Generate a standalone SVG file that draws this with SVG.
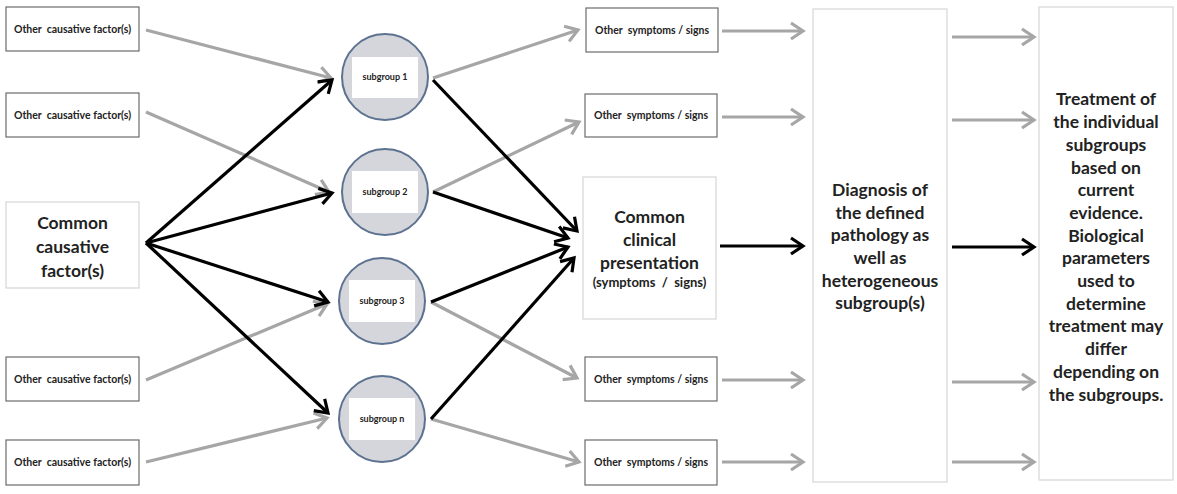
<svg xmlns="http://www.w3.org/2000/svg" width="1177" height="494" viewBox="0 0 1177 494">
<defs>
<style>
.sbox{fill:#fff;stroke:#6b6b6b;stroke-width:1.2}
.lbox{fill:#fff;stroke:#d6d6d6;stroke-width:1.2}
.circ{fill:#d4d6dc;stroke:#5d7290;stroke-width:2}
.inner{fill:#fff}
.t{font-family:Lato,"Open Sans",sans-serif;font-weight:bold;fill:#222;text-anchor:middle;white-space:pre}
.small{font-size:10.5px}
.sg{font-size:9px}
.big{font-size:17.5px}
.g{stroke:#a6a6a6;stroke-width:3.2;fill:none;marker-end:url(#mg)}
.k{stroke:#000;stroke-width:3.2;fill:none;marker-end:url(#mk)}
</style>
<marker id="mg" viewBox="-16 -10 20 20" refX="0" refY="0" markerWidth="20" markerHeight="20" markerUnits="userSpaceOnUse" orient="auto" overflow="visible">
<path d="M-12,-8 L0,0 L-12,8" fill="none" stroke="#a6a6a6" stroke-width="3.2"/>
</marker>
<marker id="mk" viewBox="-16 -10 20 20" refX="0" refY="0" markerWidth="20" markerHeight="20" markerUnits="userSpaceOnUse" orient="auto" overflow="visible">
<path d="M-12,-8 L0,0 L-12,8" fill="none" stroke="#000" stroke-width="3.2"/>
</marker>
</defs>
<rect width="1177" height="494" fill="#fff"/>

<g id="connectors">
<line class="g" x1="146" y1="30" x2="331" y2="78"/>
<line class="g" x1="146" y1="112" x2="329" y2="192"/>
<line class="g" x1="146" y1="380" x2="327" y2="304"/>
<line class="g" x1="146" y1="462" x2="327" y2="418"/>
<line class="k" x1="146" y1="243" x2="332" y2="80"/>
<line class="k" x1="146" y1="243" x2="332" y2="193"/>
<line class="k" x1="146" y1="243" x2="328" y2="302"/>
<line class="k" x1="146" y1="243" x2="328" y2="413"/>
<line class="g" x1="433" y1="78" x2="578" y2="30"/>
<line class="g" x1="433" y1="192" x2="579" y2="122"/>
<line class="g" x1="431" y1="302" x2="577" y2="378"/>
<line class="g" x1="431" y1="419" x2="579" y2="462"/>
<line class="k" x1="433" y1="80" x2="577" y2="231"/>
<line class="k" x1="433" y1="192" x2="568" y2="238"/>
<line class="k" x1="431" y1="302" x2="568" y2="247"/>
<line class="k" x1="431" y1="419" x2="574" y2="258"/>
<line class="g" x1="722" y1="31" x2="803" y2="31"/>
<line class="g" x1="722" y1="117" x2="803" y2="117"/>
<line class="k" x1="720" y1="246" x2="803" y2="246"/>
<line class="g" x1="722" y1="380" x2="803" y2="380"/>
<line class="g" x1="722" y1="462" x2="803" y2="462"/>
<line class="g" x1="952" y1="37" x2="1034" y2="37"/>
<line class="g" x1="952" y1="120" x2="1034" y2="120"/>
<line class="k" x1="952" y1="247" x2="1034" y2="247"/>
<line class="g" x1="952" y1="382" x2="1034" y2="382"/>
<line class="g" x1="952" y1="462" x2="1034" y2="462"/>
</g>

<g id="cause1"><rect class="sbox" x="6" y="7" width="133" height="44"/><text class="t small" x="72.5" y="33" xml:space="preserve">Other  causative factor(s)</text></g>
<g id="cause2"><rect class="sbox" x="6" y="93" width="133" height="44"/><text class="t small" x="72.5" y="119" xml:space="preserve">Other  causative factor(s)</text></g>
<g id="common-cause"><rect class="lbox" x="6" y="202" width="133" height="86"/>
<text class="t big" x="72.5" y="229">Common</text><text class="t big" x="72.5" y="253">causative</text><text class="t big" x="72.5" y="277">factor(s)</text></g>
<g id="cause3"><rect class="sbox" x="6" y="357" width="133" height="44"/><text class="t small" x="72.5" y="383" xml:space="preserve">Other  causative factor(s)</text></g>
<g id="cause4"><rect class="sbox" x="6" y="440" width="133" height="45"/><text class="t small" x="72.5" y="466" xml:space="preserve">Other  causative factor(s)</text></g>

<g id="subgroup1"><circle class="circ" cx="385" cy="77" r="43"/><rect class="inner" x="352" y="57" width="66" height="41"/><text class="t sg" x="385" y="80">subgroup 1</text></g>
<g id="subgroup2"><circle class="circ" cx="385" cy="192" r="43"/><rect class="inner" x="352" y="171" width="66" height="42"/><text class="t sg" x="385" y="195">subgroup 2</text></g>
<g id="subgroup3"><circle class="circ" cx="382" cy="301" r="43"/><rect class="inner" x="349" y="280" width="66" height="42"/><text class="t sg" x="382" y="304">subgroup 3</text></g>
<g id="subgroupn"><circle class="circ" cx="382" cy="419" r="43"/><rect class="inner" x="349" y="398" width="66" height="42"/><text class="t sg" x="382" y="422">subgroup n</text></g>

<g id="symptom1"><rect class="sbox" x="586" y="8" width="132" height="44"/><text class="t small" x="652" y="34" xml:space="preserve">Other  symptoms / signs</text></g>
<g id="symptom2"><rect class="sbox" x="585" y="94" width="132" height="43"/><text class="t small" x="651" y="119" xml:space="preserve">Other  symptoms / signs</text></g>
<g id="common-clinical"><rect class="lbox" x="583" y="177" width="133" height="142"/>
<text class="t big" x="649.5" y="223">Common</text><text class="t big" x="649.5" y="246">clinical</text><text class="t big" x="649.5" y="269">presentation</text>
<text class="t" style="font-size:13px" x="649.5" y="287" xml:space="preserve">(symptoms  /  signs)</text></g>
<g id="symptom3"><rect class="sbox" x="585" y="357" width="132" height="44"/><text class="t small" x="651" y="383" xml:space="preserve">Other  symptoms / signs</text></g>
<g id="symptom4"><rect class="sbox" x="585" y="440" width="132" height="45"/><text class="t small" x="651" y="466" xml:space="preserve">Other  symptoms / signs</text></g>

<g id="diagnosis"><rect class="lbox" x="813" y="9" width="134" height="473"/>
<text class="t big" x="880" y="196">Diagnosis of</text>
<text class="t big" x="880" y="219">the defined</text>
<text class="t big" x="880" y="241">pathology as</text>
<text class="t big" x="880" y="264">well as</text>
<text class="t big" x="880" y="287">heterogeneous</text>
<text class="t big" x="880" y="309">subgroup(s)</text></g>

<g id="treatment"><rect class="lbox" x="1039" y="7" width="134" height="473"/>
<text class="t big" x="1106" y="105">Treatment of</text>
<text class="t big" x="1106" y="128">the individual</text>
<text class="t big" x="1106" y="151">subgroups</text>
<text class="t big" x="1106" y="174">based on</text>
<text class="t big" x="1106" y="196">current</text>
<text class="t big" x="1106" y="219">evidence.</text>
<text class="t big" x="1106" y="242">Biological</text>
<text class="t big" x="1106" y="264">parameters</text>
<text class="t big" x="1106" y="287">used to</text>
<text class="t big" x="1106" y="310">determine</text>
<text class="t big" x="1106" y="332">treatment may</text>
<text class="t big" x="1106" y="355">differ</text>
<text class="t big" x="1106" y="378">depending on</text>
<text class="t big" x="1106" y="401">the subgroups.</text></g>
</svg>
